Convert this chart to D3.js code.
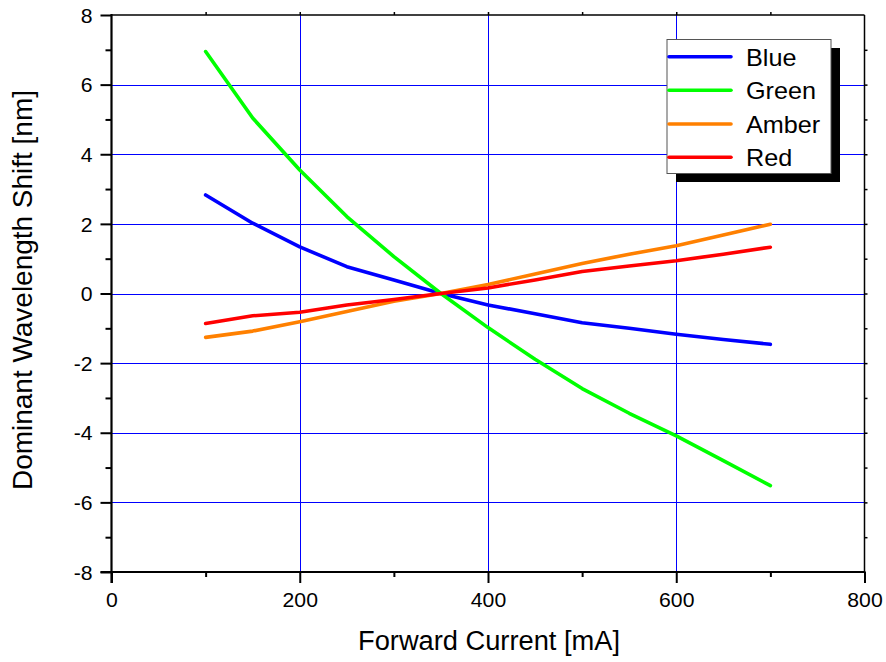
<!DOCTYPE html>
<html><head><meta charset="utf-8">
<script src="https://cdn.jsdelivr.net/npm/d3@7"></script>
<style>body{margin:0;background:#fff}svg{display:block}text{font-family:Arial,"Liberation Sans",sans-serif;fill:#000}</style>
</head><body><svg id="c" width="886" height="662"></svg>
<script>
const current = [100,150,200,250,300,350,400,450,500,550,600,650,700];
const blue  = [2.83,2.02,1.34,0.77,0.39,0.0,-0.33,-0.58,-0.84,-1.00,-1.17,-1.32,-1.46];
const green = [6.95,5.04,3.55,2.21,1.06,0.0,-0.98,-1.89,-2.73,-3.44,-4.09,-4.80,-5.52];
const amber = [-1.26,-1.08,-0.81,-0.52,-0.22,0.0,0.26,0.56,0.86,1.13,1.37,1.68,1.99];
const red   = [-0.86,-0.64,-0.54,-0.33,-0.17,0.0,0.16,0.39,0.63,0.79,0.94,1.13,1.33];
const seriesNames = ["Blue","Green","Amber","Red"];
const seriesColors = ["#0000ff","#00ff00","#ff8000","#ff0000"];
const xTicks = [0,200,400,600,800];
const yTicks = [-8,-6,-4,-2,0,2,4,6,8];
const xLabel = "Forward Current [mA]";
const yLabel = "Dominant Wavelength Shift [nm]";

const svg = d3.select("#c");
const L=111.5, R=864.5, T=15, B=572;
const x = d3.scaleLinear().domain([0,800]).range([L,R]);
const y = d3.scaleLinear().domain([-8,8]).range([B,T]);
const fmt = d => String(d);

function stretch(sel, f){ sel.each(function(){ const w=this.getComputedTextLength(); d3.select(this).attr("textLength", w*f).attr("lengthAdjust","spacingAndGlyphs"); }); }
function fitLen(sel, len){ sel.attr("textLength", len).attr("lengthAdjust","spacingAndGlyphs"); }

// grid
const g = svg.append("g");
g.selectAll("line.gx").data([200,400,600]).join("line")
 .attr("x1",d=>Math.round(x(d))+0.5).attr("x2",d=>Math.round(x(d))+0.5).attr("y1",T).attr("y2",B)
 .attr("stroke","#0000ff").attr("stroke-width",1);
g.selectAll("line.gy").data([-6,-4,-2,0,2,4,6]).join("line")
 .attr("y1",d=>Math.round(y(d))+0.5).attr("y2",d=>Math.round(y(d))+0.5).attr("x1",L).attr("x2",R)
 .attr("stroke","#0000ff").attr("stroke-width",1);

// lines
const all = [blue,green,amber,red];
const line = d3.line().x((d,i)=>x(current[i])).y(d=>y(d));
all.forEach((s,k)=>{
  svg.append("path").attr("d",line(s)).attr("fill","none").attr("stroke",seriesColors[k])
   .attr("stroke-width",3.6).attr("stroke-linejoin","round").attr("stroke-linecap","round");
});

// axes
const ax = svg.append("g");
ax.append("g").attr("transform",`translate(${L},0)`)
  .call(d3.axisLeft(y).tickValues(yTicks).tickSize(11).tickFormat(fmt))
  .call(s=>{s.select(".domain").remove(); s.selectAll("line").attr("stroke","#000").attr("stroke-width",2);
    s.selectAll("text").attr("font-size",20).attr("x",-19).attr("dy","0.36em").style("font-family","Arial, 'Liberation Sans', sans-serif");});
ax.append("g").attr("transform",`translate(${L},0)`)
  .call(d3.axisLeft(y).tickValues([-7,-5,-3,-1,1,3,5,7]).tickSize(6).tickFormat(""))
  .call(s=>{s.select(".domain").remove(); s.selectAll("line").attr("stroke","#000").attr("stroke-width",2);});
ax.append("g").attr("transform",`translate(0,${B})`)
  .call(d3.axisBottom(x).tickValues(xTicks).tickSize(11).tickFormat(fmt))
  .call(s=>{s.select(".domain").remove(); s.selectAll("line").attr("stroke","#000").attr("stroke-width",2);
    s.selectAll("text").attr("font-size",20).attr("y",21).attr("dy","0.71em").style("font-family","Arial, 'Liberation Sans', sans-serif");});
ax.append("g").attr("transform",`translate(0,${B})`)
  .call(d3.axisBottom(x).tickValues([100,300,500,700]).tickSize(5).tickFormat(""))
  .call(s=>{s.select(".domain").remove(); s.selectAll("line").attr("stroke","#000").attr("stroke-width",2);});
ax.append("g").attr("transform",`translate(0,${T})`)
  .call(d3.axisTop(x).tickValues(d3.range(100,800,100)).tickSize(3).tickFormat(""))
  .call(s=>{s.select(".domain").remove(); s.selectAll("line").attr("stroke","#000").attr("stroke-width",1.5);});
ax.append("g").attr("transform",`translate(${R},0)`)
  .call(d3.axisRight(y).tickValues(d3.range(-7,8,1)).tickSize(3).tickFormat(""))
  .call(s=>{s.select(".domain").remove(); s.selectAll("line").attr("stroke","#000").attr("stroke-width",1.5);});
ax.selectAll("text").call(stretch,1.06);
ax.append("line").attr("x1",L).attr("x2",R).attr("y1",T).attr("y2",T).attr("stroke","#000").attr("stroke-width",1.5);
ax.append("line").attr("x1",R).attr("x2",R).attr("y1",T).attr("y2",B).attr("stroke","#000").attr("stroke-width",1.5);
ax.append("line").attr("x1",L).attr("x2",L).attr("y1",T-1).attr("y2",B+11).attr("stroke","#000").attr("stroke-width",2.2);
ax.append("line").attr("x1",L-11).attr("x2",R+1).attr("y1",B).attr("y2",B).attr("stroke","#000").attr("stroke-width",2.2);

// axis titles
svg.append("text").attr("x",(358+620)/2).attr("y",650).attr("text-anchor","middle").attr("font-size",27)
  .text(xLabel).call(fitLen,262);
svg.append("text").attr("transform",`translate(31.5,${(90+490)/2}) rotate(-90)`).attr("text-anchor","middle").attr("font-size",28)
  .text(yLabel).call(fitLen,400);

// legend
const lg = svg.append("g");
lg.append("rect").attr("x",676).attr("y",48).attr("width",164).attr("height",134).attr("fill","#000");
lg.append("rect").attr("x",667).attr("y",39.5).attr("width",164).attr("height",134).attr("fill","#fff").attr("stroke","#555").attr("stroke-width",1);
const rows=[56.7,90.3,124,157.3];
seriesNames.forEach((n,i)=>{
  lg.append("line").attr("x1",669).attr("x2",731).attr("y1",rows[i]).attr("y2",rows[i])
    .attr("stroke",seriesColors[i]).attr("stroke-width",3.6).attr("stroke-linecap","round");
  lg.append("text").attr("x",746).attr("y",rows[i]+8.8).attr("font-size",24).text(n).call(stretch,1.05);
});
</script></body></html>
